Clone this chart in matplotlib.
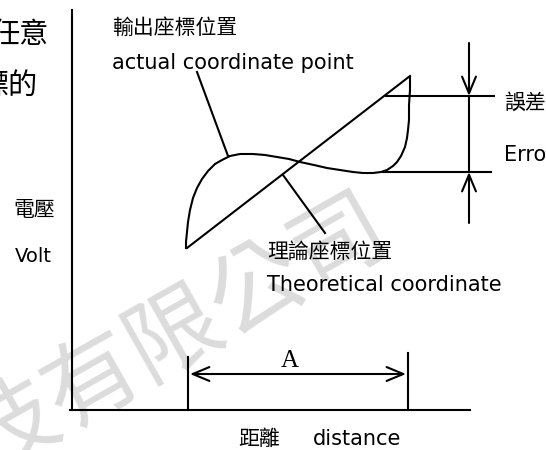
import matplotlib.pyplot as plt

plt.rcParams['font.family'] = ['DejaVu Sans', 'Noto Sans CJK TC']

# diagram laid out in picture pixels (y grows downward)
W = 546
H = 450

# theoretical (straight) line
theory_x = [187, 410]
theory_y = [248, 76]

# actual (measured) curve
actual_x = [186, 186, 187, 188, 190, 193, 197, 202, 208, 215, 222, 230, 240, 253, 265,
            277, 289, 300, 314, 327, 340, 353, 363, 373, 381, 387, 393, 397, 401, 405,
            407, 408, 409, 409, 410, 410]
actual_y = [248, 242, 232, 222, 210, 198, 188, 179, 171, 164, 160, 156, 154, 154, 155,
            157, 159, 162, 165, 168, 170, 172, 173, 173, 172, 170, 166, 162, 156, 147,
            138, 130, 120, 105, 90, 77]

# error band levels
err_top = 96
err_bot = 172

# range A
a_left = 188
a_right = 408

fig = plt.figure(figsize=(5.46, 4.5), dpi=100)
ax = fig.add_axes([0, 0, 1, 1])
ax.set_xlim(0, W)
ax.set_ylim(H, 0)
ax.axis('off')

lw = 1.5
k = 'black'

# watermark
ax.text(176, 336, '技有限公司', fontsize=68, color='#dcdcdc', rotation=29.5,
        ha='center', va='center', rotation_mode='anchor', zorder=0,
        family=['Noto Sans CJK TC'])

# axes
ax.plot([72, 72], [10, 410], color=k, lw=lw)
ax.plot([70, 470], [410, 410], color=k, lw=lw)

# curves
ax.plot(theory_x, theory_y, color=k, lw=lw)
ax.plot(actual_x, actual_y, color=k, lw=lw, solid_joinstyle='round')

# leaders
ax.plot([197, 228], [72, 156], color=k, lw=lw)
ax.plot([283, 325], [175, 233], color=k, lw=lw)

# error marks
ax.plot([386, 494], [err_top, err_top], color=k, lw=lw)
ax.plot([383, 491], [err_bot, err_bot], color=k, lw=lw)
ax.plot([469, 469], [err_top, err_bot], color=k, lw=lw)
aprops = dict(arrowstyle='->,head_length=1.2,head_width=0.5', lw=lw, color=k,
              shrinkA=0, shrinkB=0, mutation_scale=10)
ax.annotate('', xy=(469, err_top), xytext=(469, 43), arrowprops=aprops)
ax.annotate('', xy=(469, err_bot), xytext=(469, 223), arrowprops=aprops)

# range A
ax.plot([a_left, a_left], [357, 410], color=k, lw=lw)
ax.plot([a_right, a_right], [353, 410], color=k, lw=lw)
ax.annotate('', xy=(a_right - 2, 374), xytext=(a_left + 2, 374),
            arrowprops=dict(aprops, arrowstyle='<->,head_length=1.2,head_width=0.5'))
ax.text(290, 361, 'A', fontsize=18, ha='center', va='center', family=['Liberation Serif'])

fs = 15
ax.text(112, 28, '輸出座標位置', fontsize=fs, va='center')
ax.text(112, 63, 'actual coordinate point', fontsize=fs, va='center')
ax.text(504, 103, '誤差', fontsize=fs, va='center')
ax.text(504, 155, 'Error', fontsize=fs, va='center')
ax.text(13, 210, '電壓', fontsize=fs, va='center')
ax.text(15, 257, 'Volt', fontsize=14, va='center')
ax.text(267, 252, '理論座標位置', fontsize=fs, va='center')
ax.text(267, 285, 'Theoretical coordinate', fontsize=fs, va='center')
ax.text(238, 439, '距離', fontsize=fs, va='center')
ax.text(313, 439, 'distance', fontsize=fs, va='center')

# cut-off text at the left edge
ax.text(49, 35, '任意', fontsize=21, ha='right', va='center')
ax.text(37, 86, '標的', fontsize=21, ha='right', va='center')

fig.savefig('out.png', dpi=100)
